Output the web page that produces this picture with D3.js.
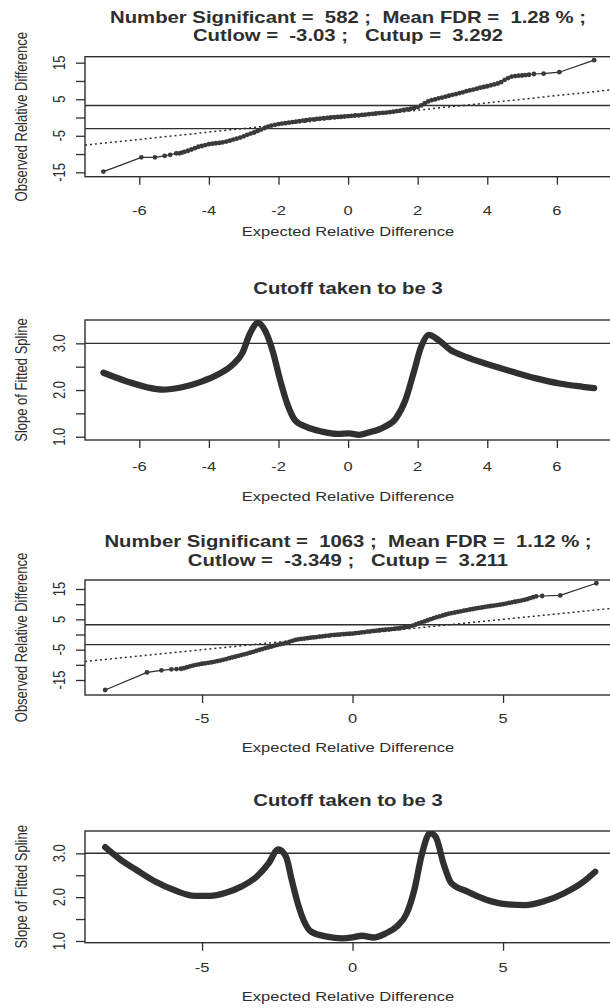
<!DOCTYPE html>
<html lang="en">
<head>
<meta charset="UTF-8">
<title>SAM plots</title>
<script src="https://d3js.org/d3.v7.min.js"></script>
<style>
  body { margin: 0; background: #fff; }
  svg { display: block; }
  text { font-family: "Liberation Sans", Arial, sans-serif; fill: #2e2e2e; white-space: pre; }
</style>
</head>
<body>
<svg id="chart" width="610" height="1008"></svg>
<script>
// ---- data ----
// QQ plot 1 (582 significant): [expected, observed]
const qq1Points = [
  [-7.03,-14.8],[-5.94,-10.9],[-5.55,-10.9],[-5.27,-10.5],[-5.11,-10.2],[-4.94,-9.8],[-4.85,-9.8],[-4.77,-9.6],[-4.7,-9.4],
  [-4.6,-9.1],[-4.5,-8.75],[-4.4,-8.4],[-4.3,-8.0],[-4.2,-7.8],[-4.1,-7.55],[-4.0,-7.3],[-3.9,-7.15],[-3.8,-7.05],[-3.7,-6.95],
  [-3.6,-6.8],[-3.5,-6.6],[-3.4,-6.35],[-3.3,-6.05],[-3.2,-5.8],[-3.1,-5.5],[-3.0,-5.15],[-2.9,-4.75],[-2.8,-4.4],[-2.7,-4.1],
  [-2.6,-3.7],[-2.5,-3.3],[-2.4,-2.9],[-2.3,-2.5],[-2.2,-2.2],[-2.1,-2.0],[-2.0,-1.8],[-1.9,-1.65],[-1.8,-1.55],[-1.7,-1.4],
  [-1.6,-1.25],[-1.5,-1.15],[-1.4,-1.0],[-1.3,-0.85],[-1.2,-0.75],[-1.1,-0.6],[-1.0,-0.5],[-0.9,-0.4],[-0.8,-0.3],[-0.7,-0.2],
  [-0.6,-0.1],[-0.5,0.0],[-0.4,0.1],[-0.3,0.15],[-0.2,0.2],[-0.1,0.3],[0.0,0.35],[0.1,0.45],[0.2,0.55],[0.3,0.6],[0.4,0.7],
  [0.5,0.8],[0.6,0.9],[0.7,1.0],[0.8,1.1],[0.9,1.2],[1.0,1.25],[1.1,1.35],[1.2,1.45],[1.3,1.6],[1.4,1.75],[1.5,1.9],[1.6,2.05],
  [1.7,2.2],[1.8,2.4],[1.9,2.6],[2.0,2.85],[2.1,3.3],[2.2,3.9],[2.3,4.4],[2.4,4.75],[2.5,4.95],[2.6,5.25],[2.7,5.45],[2.8,5.7],
  [2.9,5.95],[3.0,6.2],[3.1,6.4],[3.2,6.65],[3.3,6.9],[3.4,7.2],[3.5,7.45],[3.6,7.65],[3.7,7.9],[3.8,8.15],[3.9,8.35],[4.0,8.55],
  [4.1,8.8],[4.2,9.05],[4.3,9.3],[4.4,9.7],[4.5,10.3],[4.6,10.8],[4.7,11.2],[4.8,11.35],[4.9,11.45],[5.0,11.5],[5.1,11.6],
  [5.2,11.7],[5.34,11.9],[5.62,12.0],[6.07,12.4],[7.07,15.7]
];
const qq1Cuts = [-3.03, 3.292];
const qq1Title = ["Number Significant =  582 ;  Mean FDR =  1.28 % ;", "Cutlow =  -3.03 ;   Cutup =  3.292"];

// slope of fitted spline 1
const slope1X = [-7.03,-6.34,-5.78,-5.33,-4.77,-4.21,-3.77,-3.32,-3.04,-2.82,-2.59,-2.37,-2.15,-1.98,-1.75,-1.53,-1.2,-0.75,-0.3,0.03,0.31,0.59,1.04,1.37,1.65,1.88,2.1,2.32,2.6,2.94,3.39,4.06,4.73,5.4,6.07,6.74,7.07];
const slope1Y = [2.37,2.18,2.06,2.01,2.06,2.18,2.32,2.54,2.79,3.21,3.44,3.25,2.79,2.29,1.71,1.36,1.21,1.11,1.06,1.07,1.04,1.09,1.21,1.39,1.79,2.36,2.93,3.18,3.07,2.86,2.71,2.54,2.39,2.25,2.14,2.07,2.04];

// QQ plot 2 (1063 significant): [expected, observed]
const qq2Points = [
  [-8.22,-18.3],[-6.83,-12.5],[-6.35,-11.8],[-6.02,-11.5],[-5.85,-11.4],[-5.7,-11.3],
  [-5.6,-11.1],[-5.5,-10.8],[-5.4,-10.5],[-5.3,-10.25],[-5.2,-10.0],[-5.1,-9.85],[-5.0,-9.65],[-4.9,-9.5],[-4.8,-9.35],
  [-4.7,-9.2],[-4.6,-9.0],[-4.5,-8.8],[-4.4,-8.6],[-4.3,-8.35],[-4.2,-8.1],[-4.1,-7.8],[-4.0,-7.55],[-3.9,-7.3],[-3.8,-7.05],
  [-3.7,-6.8],[-3.6,-6.55],[-3.5,-6.3],[-3.4,-6.0],[-3.3,-5.7],[-3.2,-5.4],[-3.1,-5.1],[-3.0,-4.8],[-2.9,-4.5],[-2.8,-4.25],
  [-2.7,-4.0],[-2.6,-3.7],[-2.5,-3.45],[-2.4,-3.2],[-2.3,-3.0],[-2.2,-2.75],[-2.1,-2.4],[-2.0,-2.1],[-1.9,-1.8],[-1.8,-1.6],
  [-1.7,-1.45],[-1.6,-1.35],[-1.5,-1.2],[-1.4,-1.05],[-1.3,-0.95],[-1.2,-0.85],[-1.1,-0.7],[-1.0,-0.6],[-0.9,-0.45],[-0.8,-0.35],
  [-0.7,-0.2],[-0.6,-0.15],[-0.5,-0.05],[-0.4,0.05],[-0.3,0.1],[-0.2,0.2],[-0.1,0.25],[0.0,0.3],[0.1,0.45],[0.2,0.55],[0.3,0.7],
  [0.4,0.8],[0.5,0.95],[0.6,1.05],[0.7,1.2],[0.8,1.3],[0.9,1.4],[1.0,1.5],[1.1,1.6],[1.2,1.7],[1.3,1.8],[1.4,1.9],[1.5,2.0],
  [1.6,2.15],[1.7,2.3],[1.8,2.5],[1.9,2.7],[2.0,2.95],[2.1,3.3],[2.2,3.7],[2.3,4.0],[2.4,4.35],[2.5,4.7],[2.6,5.05],[2.7,5.4],
  [2.8,5.7],[2.9,6.0],[3.0,6.3],[3.1,6.6],[3.2,6.85],[3.3,7.05],[3.4,7.25],[3.5,7.45],[3.6,7.65],[3.7,7.85],[3.8,8.05],[3.9,8.25],
  [4.0,8.4],[4.1,8.6],[4.2,8.75],[4.3,8.9],[4.4,9.1],[4.5,9.25],[4.6,9.4],[4.7,9.55],[4.8,9.7],[4.9,9.85],[5.0,10.0],[5.1,10.2],
  [5.2,10.4],[5.3,10.6],[5.4,10.8],[5.5,11.0],[5.6,11.2],[5.7,11.4],[5.8,11.65],[5.9,12.0],[6.0,12.3],[6.1,12.6],[6.3,12.7],
  [6.9,12.9],[8.1,16.9]
];
const qq2Cuts = [-3.349, 3.211];
const qq2Title = ["Number Significant =  1063 ;  Mean FDR =  1.12 % ;", "Cutlow =  -3.349 ;   Cutup =  3.211"];

// slope of fitted spline 2
const slope2X = [-8.22,-7.7,-7.18,-6.54,-5.89,-5.25,-4.73,-4.21,-3.7,-3.18,-2.79,-2.47,-2.21,-2.02,-1.82,-1.63,-1.37,-0.85,-0.34,-0.01,0.31,0.7,1.09,1.47,1.8,2.05,2.31,2.57,2.76,3.02,3.28,3.8,4.44,5.09,5.74,6.38,7.03,7.67,8.06];
const slope2Y = [3.14,2.85,2.62,2.35,2.15,2.03,2.03,2.1,2.24,2.47,2.77,3.09,2.92,2.39,1.86,1.48,1.21,1.1,1.06,1.08,1.12,1.08,1.17,1.33,1.63,2.16,3.0,3.46,3.38,2.77,2.32,2.13,1.94,1.84,1.82,1.91,2.09,2.35,2.58];

const slopeCutoff = 3;
const slopeTitle = "Cutoff taken to be 3";

const xTicks1 = [-6, -4, -2, 0, 2, 4, 6];
const xTicks2 = [-5, 0, 5];
const qqYTicks = [-15, -10, -5, 0, 5, 10, 15];
const qqYLabels = [-15, -5, 5, 15];
const slopeYTicks = [1.0, 1.5, 2.0, 2.5, 3.0];
const slopeYLabels = [1.0, 2.0, 3.0];

const xLab = "Expected Relative Difference";
const qqYLab = "Observed Relative Difference";
const slopeYLab = "Slope of Fitted Spline";

// ---- layout ----
const SX = 1.27;          // the picture is stretched sideways
const L = 85, R = 615;    // right side of box runs off the picture
const ink = "#2e2e2e";

const svg = d3.select("#chart");

function label(txt, x, y, size, bold, rot) {
  svg.append("text")
    .attr("transform", `translate(${x},${y}) scale(${SX},1)` + (rot ? " rotate(-90)" : ""))
    .attr("text-anchor", "middle")
    .attr("dy", "0.35em")
    .style("font-size", size + "px")
    .style("font-weight", bold ? "bold" : "normal")
    .text(txt);
}

function frame(p) {
  const x = d3.scaleLinear().domain(p.xdom).range([L, R]);
  const y = d3.scaleLinear().domain(p.ydom).range([p.bottom, p.top]);

  p.title.forEach((t, i) => label(t, 348, p.titleY[i], 16, true));

  const ax = svg.append("g").attr("transform", `translate(0,${p.bottom})`)
    .call(d3.axisBottom(x).tickValues(p.xTicks).tickSize(8).tickFormat(""));
  const ay = svg.append("g").attr("transform", `translate(${L},0)`)
    .call(d3.axisLeft(y).tickValues(p.yTicks).tickSize(9).tickFormat(""));
  [ax, ay].forEach(a => {
    a.select(".domain").remove();
    a.selectAll("line").attr("stroke", ink).attr("stroke-width", 1.3);
  });

  p.xTicks.forEach(v => label(String(v), x(v), p.tickY, 13));
  p.yLabels.forEach(v => label(p.fmt(v), 59, y(v), 13, false, true));
  label(xLab, 348, p.labY, 13);
  label(p.yLab, 21, (p.top + p.bottom) / 2, 13, false, true);

  svg.append("rect")
    .attr("x", L).attr("y", p.top)
    .attr("width", R - L).attr("height", p.bottom - p.top)
    .attr("fill", "none").attr("stroke", ink).attr("stroke-width", 1.4);

  const id = "clip" + Math.round(p.top);
  svg.append("clipPath").attr("id", id)
    .append("rect").attr("x", L).attr("y", p.top).attr("width", R - L).attr("height", p.bottom - p.top);
  const g = svg.append("g").attr("clip-path", `url(#${id})`);
  return { x, y, g };
}

function hline(f, v) {
  f.g.append("line")
    .attr("x1", L).attr("x2", R).attr("y1", f.y(v)).attr("y2", f.y(v))
    .attr("stroke", ink).attr("stroke-width", 1.4);
}

function qqPanel(p, pts, cuts) {
  const f = frame(p);
  cuts.forEach(c => hline(f, c));
  f.g.append("line")
    .attr("x1", f.x(p.xdom[0])).attr("y1", f.y(p.xdom[0]))
    .attr("x2", f.x(p.xdom[1])).attr("y2", f.y(p.xdom[1]))
    .attr("stroke", ink).attr("stroke-width", 1.5).attr("stroke-dasharray", "2,3");
  f.g.append("path").datum(pts)
    .attr("d", d3.line().x(d => f.x(d[0])).y(d => f.y(d[1])))
    .attr("fill", "none").attr("stroke", ink).attr("stroke-width", 1.2);
  f.g.selectAll("circle.pt").data(pts).join("circle")
    .attr("class", "pt")
    .attr("cx", d => f.x(d[0])).attr("cy", d => f.y(d[1]))
    .attr("r", 2.4).attr("fill", "#3a3a3a");
}

function slopePanel(p, xs, ys) {
  const f = frame(p);
  hline(f, slopeCutoff);
  const pts = xs.map((v, i) => [v, ys[i]]);
  f.g.append("path").datum(pts)
    .attr("d", d3.line().curve(d3.curveMonotoneX).x(d => f.x(d[0])).y(d => f.y(d[1])))
    .attr("fill", "none").attr("stroke", "#303030").attr("stroke-width", 6.3)
    .attr("stroke-linecap", "round").attr("stroke-linejoin", "round");
}

const fmtInt = v => String(v);
const fmt1 = v => v.toFixed(1);

qqPanel({ top: 56.7, bottom: 176.7, xdom: [-7.56, 7.67], ydom: [-16.2, 16.64],
  title: qq1Title, titleY: [17, 35], tickY: 210.7, labY: 231.7,
  xTicks: xTicks1, yTicks: qqYTicks, yLabels: qqYLabels, fmt: fmtInt, yLab: qqYLab },
  qq1Points, qq1Cuts);

slopePanel({ top: 320, bottom: 440, xdom: [-7.56, 7.67], ydom: [0.93, 3.5],
  title: [slopeTitle], titleY: [288.3], tickY: 466, labY: 496.7,
  xTicks: xTicks1, yTicks: slopeYTicks, yLabels: slopeYLabels, fmt: fmt1, yLab: slopeYLab },
  slope1X, slope1Y);

qqPanel({ top: 580, bottom: 695, xdom: [-8.89, 8.72], ydom: [-19.95, 17.97],
  title: qq2Title, titleY: [541.7, 560], tickY: 718.3, labY: 747.3,
  xTicks: xTicks2, yTicks: qqYTicks, yLabels: qqYLabels, fmt: fmtInt, yLab: qqYLab },
  qq2Points, qq2Cuts);

slopePanel({ top: 831, bottom: 942.7, xdom: [-8.89, 8.72], ydom: [0.961, 3.509],
  title: [slopeTitle], titleY: [800.7], tickY: 967.3, labY: 996.7,
  xTicks: xTicks2, yTicks: slopeYTicks, yLabels: slopeYLabels, fmt: fmt1, yLab: slopeYLab },
  slope2X, slope2Y);
</script>
</body>
</html>
